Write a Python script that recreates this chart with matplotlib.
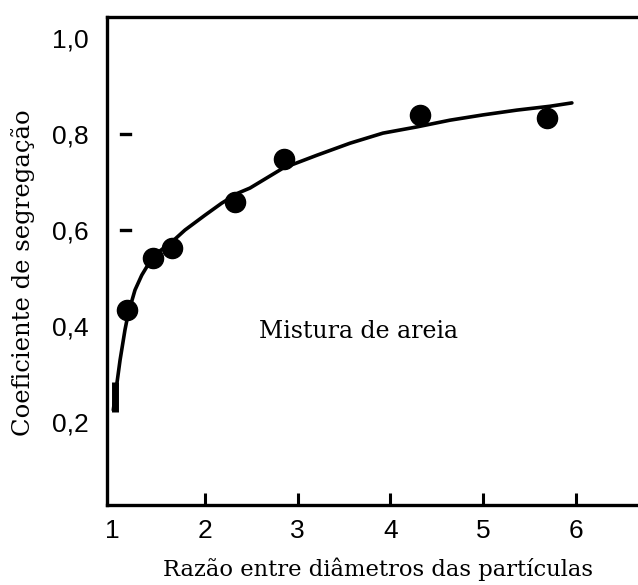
import matplotlib
matplotlib.use("Agg")
import matplotlib.pyplot as plt
import matplotlib.transforms as mtransforms


# measured points (razão de diâmetros, coeficiente de segregação)
ratio_points = [1.16, 1.44, 1.64, 2.32, 2.85, 4.32, 5.69]
coef_points = [0.433, 0.542, 0.562, 0.658, 0.748, 0.840, 0.833]

# first point drawn as a short bar at the start of the curve
ratio_bar = [1.03]
coef_bar = [0.252]

# fitted curve
ratio_curve = [1.011, 1.084, 1.137, 1.173, 1.245, 1.318, 1.371, 1.497,
               1.641, 1.784, 2.0, 2.18, 2.356, 2.485, 2.841, 3.208,
               3.564, 3.919, 4.286, 4.642, 4.998, 5.364, 5.72, 5.957]
coef_curve = [0.225, 0.329, 0.392, 0.427, 0.475, 0.506, 0.523, 0.554,
              0.575, 0.600, 0.631, 0.656, 0.677, 0.6875, 0.729, 0.756,
              0.781, 0.802, 0.815, 0.829, 0.840, 0.850, 0.858, 0.865]

x_ticks = [2, 3, 4, 5, 6]
y_ticks = [0.2, 0.4, 0.6, 0.8, 1.0]
y_tick_labels = ["0,2", "0,4", "0,6", "0,8", "1,0"]
y_dashes = [0.6, 0.8]

SERIF = ["DejaVu Serif"]
SANS = ["Liberation Sans", "DejaVu Sans"]


def main():
    fig = plt.figure(figsize=(6.38, 5.85), dpi=100)
    ax = fig.add_axes([0.1677, 0.1368, 0.8323, 0.8341])

    ax.plot(ratio_curve, coef_curve, color="black", lw=2.6,
            solid_capstyle="round", solid_joinstyle="round")
    ax.plot(ratio_points, coef_points, "o", color="black", ms=14.5)
    ax.plot(ratio_bar, coef_bar, "|", color="black", ms=22, mew=5)

    ax.set_xlim(0.943, 6.67)
    ax.set_ylim(0.027, 1.044)

    for side in ["left", "bottom", "top"]:
        ax.spines[side].set_linewidth(2.4)
    ax.spines["right"].set_visible(False)

    # x axis: inward ticks at 2..6, label "1" without a mark
    ax.set_xticks(x_ticks)
    ax.set_xticks([1], minor=True)
    ax.set_xticklabels([str(v) for v in x_ticks])
    ax.set_xticklabels(["1"], minor=True)
    ax.tick_params(axis="x", which="major", direction="in", length=9,
                   width=2.2, pad=10, labelsize=19)
    ax.tick_params(axis="x", which="minor", direction="in", length=0,
                   pad=10, labelsize=19)
    for lbl in ax.get_xticklabels(which="both"):
        lbl.set_family(SANS)

    ax.set_yticks(y_ticks)
    ax.set_yticklabels(y_tick_labels)
    ax.tick_params(axis="y", length=0, pad=13, labelsize=19)
    for lbl in ax.get_yticklabels():
        lbl.set_family(SANS)

    # small detached dashes next to the y axis
    trans = mtransforms.blended_transform_factory(ax.transAxes, ax.transData)
    for yv in y_dashes:
        ax.plot([0.026, 0.043], [yv, yv], color="black", lw=2.4,
                transform=trans, clip_on=False)

    ax.set_xlabel("Razão entre diâmetros das partículas", family=SERIF,
                  fontsize=16.3)
    ax.xaxis.set_label_coords(0.51, -0.108)
    ax.set_ylabel("Coeficiente de segregação", family=SERIF, fontsize=17.5)
    ax.yaxis.set_label_coords(-0.136, 0.477)

    ax.text(0.473, 0.355, "Mistura de areia", transform=ax.transAxes,
            ha="center", va="center", family=SERIF, fontsize=17)

    fig.savefig("out.png", dpi=100)


if __name__ == "__main__":
    main()
